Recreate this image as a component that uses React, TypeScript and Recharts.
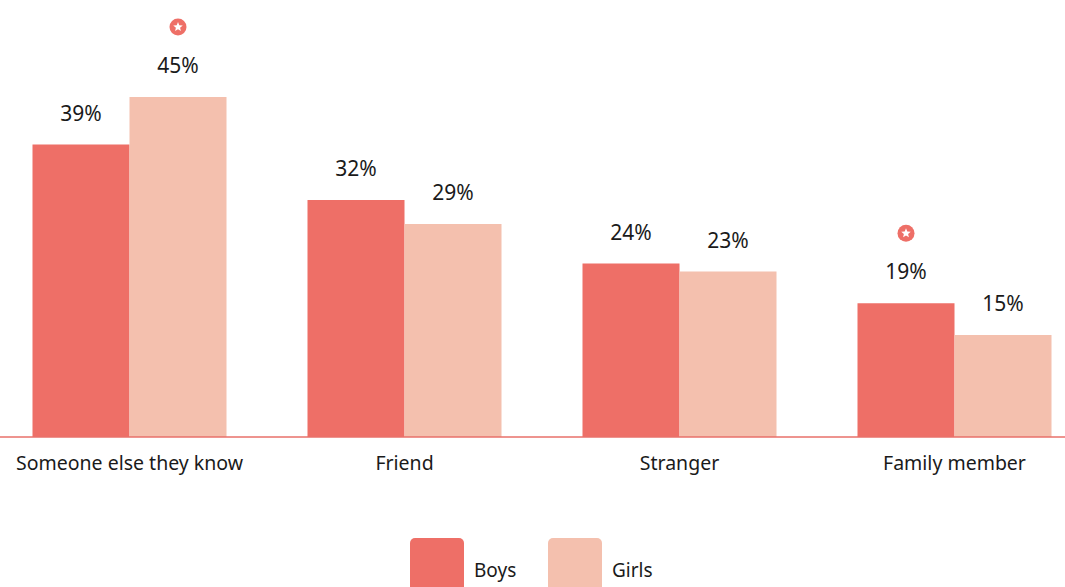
import { BarChart, Bar, XAxis, YAxis, Legend, LabelList } from 'recharts'

const categories = ['Someone else they know', 'Friend', 'Stranger', 'Family member']
const boys = [39, 32, 24, 19]
const girls = [45, 29, 23, 15]
// index of categories marked with a star, per series
const boysStars = [3]
const girlsStars = [0]

const BOYS = '#EE6F67'
const GIRLS = '#F4C0AE'
const FONT = '"Noto Sans", sans-serif'

const data = categories.map((name, i) => ({ name, boys: boys[i], girls: girls[i] }))

function Star({ cx, cy }: { cx: number; cy: number }) {
  const pts: string[] = []
  for (let i = 0; i < 10; i++) {
    const r = i % 2 === 0 ? 5 : 2.2
    const a = (Math.PI / 5) * i - Math.PI / 2
    pts.push(`${cx + r * Math.cos(a)},${cy + r * Math.sin(a)}`)
  }
  return (
    <g>
      <circle cx={cx} cy={cy} r={8.5} fill={BOYS} />
      <polygon points={pts.join(' ')} fill="#fff" />
    </g>
  )
}

function makeLabel(stars: number[]) {
  return (props: any) => {
    const { x, y, width, value, index } = props
    const cx = Number(x) + Number(width) / 2
    const ly = Number(y) - 32
    return (
      <g>
        {stars.includes(index) && <Star cx={cx} cy={ly - 38} />}
        <text x={cx} y={ly} textAnchor="middle" dominantBaseline="central" fontSize={21} fill="#1a1a1a" fontFamily={FONT}>
          {value}%
        </text>
      </g>
    )
  }
}

function LegendBox() {
  const item = (color: string, label: string, w: number) => (
    <div style={{ display: 'flex', alignItems: 'center', width: w }}>
      <div style={{ width: 54, height: 64, background: color, borderRadius: '5px 5px 0 0' }} />
      <span style={{ marginLeft: 10, fontSize: 19, color: '#1a1a1a', fontFamily: FONT }}>{label}</span>
    </div>
  )
  return (
    <div style={{ display: 'flex' }}>
      {item(BOYS, 'Boys', 138)}
      {item(GIRLS, 'Girls', 120)}
    </div>
  )
}

export default function App() {
  return (
    <div
      style={{
        position: 'absolute',
        left: 0,
        top: 0,
        width: 1065,
        height: 587,
        overflow: 'hidden',
        fontFamily: FONT,
      }}
    >
      <BarChart
        width={1100}
        height={587}
        data={data}
        margin={{ top: 57.3, right: 0, bottom: 120, left: 0 }}
        barCategoryGap={40.5}
        barGap={0}
        style={{ position: 'absolute', left: -8.5, top: 0 }}
      >
        <XAxis
          dataKey="name"
          height={30}
          tickLine={false}
          tickMargin={13}
          axisLine={{ stroke: '#E8706A', strokeWidth: 1.5 }}
          tick={{ fontSize: 19.5, fill: '#1a1a1a', fontFamily: FONT }}
          interval={0}
        />
        <YAxis hide type="number" domain={[2.14, 50]} allowDataOverflow />
        <Legend
          layout="horizontal"
          verticalAlign="middle"
          align="center"
          content={() => <LegendBox />}
          wrapperStyle={{ top: 538, left: 418.5, bottom: 'auto', width: 300, height: 64 }}
        />
        <Bar dataKey="boys" name="Boys" fill={BOYS} isAnimationActive={false}>
          <LabelList dataKey="boys" content={makeLabel(boysStars)} />
        </Bar>
        <Bar dataKey="girls" name="Girls" fill={GIRLS} isAnimationActive={false}>
          <LabelList dataKey="girls" content={makeLabel(girlsStars)} />
        </Bar>
      </BarChart>
    </div>
  )
}
